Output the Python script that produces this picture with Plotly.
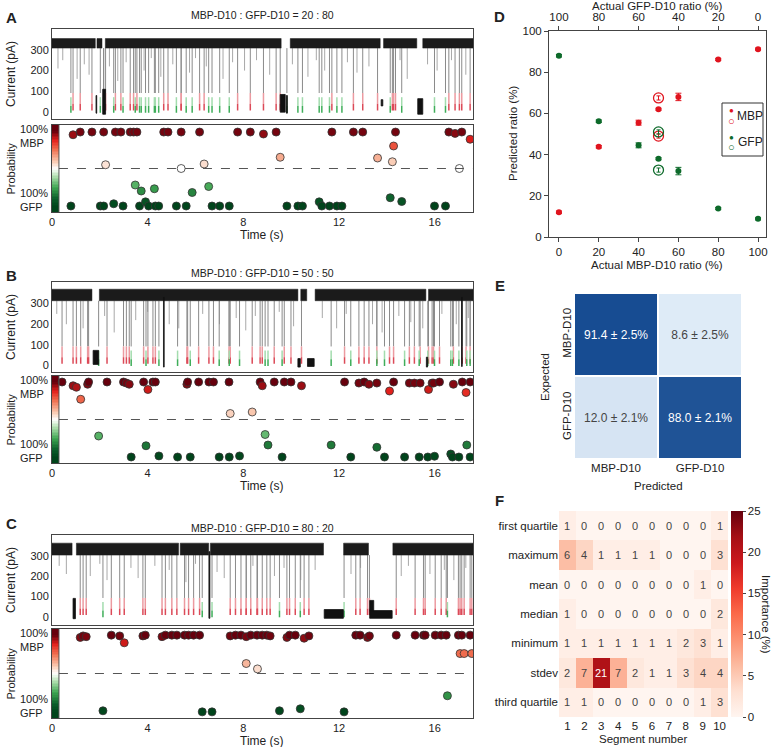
import plotly.graph_objects as go

W, H = 773, 747
FONT = "Arial, 'Liberation Sans', sans-serif"

def fx(x):
    return x / W

def fy(y):
    return 1 - y / H

# ---------------- data ----------------
T_MAX = 17.6
STRIP_W = 0.29
MBP_LEVEL = 8
GFP_LEVEL = -3
GRAY_END = 92
SPLIT_LEVEL = 40

# Panel A (20:80)
A_title = "MBP-D10 : GFP-D10 = 20 : 80"
A_t = [0.88, 1.18, 1.67, 2.16, 2.65, 2.88, 3.27, 3.41, 3.55, 4.67, 4.85, 5.40, 6.17, 7.76, 8.29, 8.84, 9.37,
       11.70, 12.60, 12.99, 14.36, 16.59, 16.85, 17.13, 17.48,
       2.24, 5.40, 6.36, 9.54, 13.61, 14.28, 14.23, 17.03,
       3.48, 3.73, 4.28, 5.86, 6.55, 14.14, 14.62,
       0.79, 2.02, 2.16, 2.58, 2.97, 3.66, 3.91, 4.04, 4.32, 4.46, 5.20, 5.61, 6.69, 7.01, 7.41, 9.82,
       10.28, 10.47, 11.17, 11.28, 11.60, 11.91, 12.12, 15.99, 16.45]
A_p = [0.95, 0.986, 0.986, 0.986, 0.986, 0.986, 0.986, 0.986, 0.986, 0.986, 0.986, 0.986, 0.986, 0.986, 0.986, 0.96, 0.986,
       0.986, 0.986, 0.986, 0.986, 0.986, 0.968, 0.986, 0.89,
       0.55, 0.50, 0.56, 0.65, 0.64, 0.80, 0.59, 0.50,
       0.28, 0.20, 0.23, 0.18, 0.26, 0.11, 0.06,
       0.0, 0.0, 0.0, 0.03, 0.0, 0.0, 0.055, 0.0, 0.0, 0.0, 0.0, 0.0, 0.0, 0.0, 0.0, 0.0,
       0.0, 0.0, 0.055, 0.0, 0.0, 0.0, 0.0, 0.0, 0.0]
A_spike_t = [0.25, 0.45, 1.05, 1.35, 1.55, 2.40, 2.75, 3.10, 3.85, 4.15, 4.55, 5.05, 5.75, 6.00, 6.45, 7.15, 7.55,
             8.05, 8.55, 9.10, 10.05, 10.70, 11.05, 11.40, 12.35, 12.75, 13.25, 14.55, 14.85, 15.70, 16.10, 16.70, 17.30]
A_spike_d = [210, 250, 160, 230, 180, 220, 150, 240, 200, 260, 170, 230, 190, 260, 220, 160, 240,
             200, 250, 180, 230, 170, 250, 200, 240, 190, 220, 250, 160, 230, 200, 250, 180]
A_band_s = [0.0, 1.88, 2.23, 9.96, 13.86, 15.50]
A_band_e = [1.81, 2.09, 9.58, 13.72, 15.25, 17.6]
A_band_lv = (308, 354)
A_blk_s = [1.84, 2.12, 9.54, 9.80, 13.76, 15.29]
A_blk_e = [1.87, 2.24, 9.75, 9.84, 13.83, 15.50]
A_blk_lo = [-5, -10, 0, -5, 30, -10]
A_blk_hi = [80, 110, 85, 80, 60, 65]
A_yrange = [-33, 400]

# Panel B (50:50)
B_title = "MBP-D10 : GFP-D10 = 50 : 50"
B_t = [0.42, 0.88, 1.02, 1.49, 1.53, 2.30, 2.99, 3.11, 3.23, 3.83, 4.01, 4.22, 4.32, 5.64, 5.67, 6.13, 6.56,
       6.75, 7.40, 8.70, 8.79, 9.29, 9.71, 9.99, 10.43, 12.23, 12.83, 13.05, 13.25, 13.58, 14.11, 14.28,
       14.94, 15.15, 15.39, 15.74, 15.89, 15.95, 16.20, 16.78, 17.15, 17.31, 17.48, 1.20,
       7.45, 8.37,
       1.95, 8.91, 3.93, 9.03, 11.67, 13.58, 17.34,
       3.31, 4.47, 5.25, 5.78, 6.99, 7.41, 7.84, 9.62, 12.49, 13.90, 14.74, 15.35, 15.71, 15.99, 16.67,
       16.74, 17.01, 17.48]
B_p = [1.0, 0.95, 0.93, 0.97, 1.0, 1.0, 1.0, 0.986, 0.97, 1.0, 0.90, 1.0, 1.0, 0.97, 1.0, 1.0, 1.0,
       1.0, 1.0, 1.0, 0.95, 1.0, 1.0, 1.0, 0.95, 1.0, 0.986, 1.0, 0.97, 0.986, 0.88, 1.0,
       0.986, 0.986, 0.986, 0.90, 0.986, 0.986, 1.0, 0.97, 1.0, 0.86, 1.0, 0.77,
       0.58, 0.60,
       0.28, 0.30, 0.15, 0.16, 0.16, 0.13, 0.16,
       0.0, 0.014, 0.0, 0.0, 0.0, 0.0, 0.014, 0.0, 0.0, 0.0, 0.0, 0.0, 0.0, 0.01, 0.04,
       0.0, 0.0, 0.0]
B_spike_t = [0.20, 0.60, 1.30, 2.20, 2.60, 3.50, 4.00, 4.90, 5.30, 6.30, 7.00, 7.70, 8.10, 8.50, 9.50, 10.10,
             11.30, 11.90, 12.30, 13.40, 13.80, 14.50, 15.00, 15.50, 16.30, 16.90, 17.40]
B_spike_d = [250, 200, 180, 240, 160, 220, 260, 200, 180, 250, 200, 230, 170, 240, 260, 190,
             230, 180, 250, 200, 160, 240, 210, 180, 250, 200, 230]
B_band_s = [0.0, 1.98, 10.40, 11.00, 15.74]
B_band_e = [1.67, 10.28, 10.65, 15.63, 17.6]
B_band_lv = (314, 370)
B_blk_s = [1.72, 4.66, 10.28, 10.68, 15.65, 17.12]
B_blk_e = [1.95, 4.69, 10.38, 10.96, 15.70, 17.15]
B_blk_lo = [5, -8, -8, -5, -8, -5]
B_blk_hi = [73, 330, 33, 33, 40, 330]
B_yrange = [-32, 405]

# Panel C (80:20)
C_title = "MBP-D10 : GFP-D10 = 80 : 20"
C_t = [1.18, 1.30, 1.43, 2.48, 2.83, 3.02, 3.80, 3.90, 4.60, 4.74, 5.01, 5.22, 5.54, 5.71, 5.92, 6.17,
       7.45, 7.67, 7.90, 8.12, 8.31, 8.57, 8.79, 8.98, 9.12, 9.82, 9.93, 10.17, 10.54, 10.74, 12.70,
       12.88, 13.19, 13.27, 14.39, 15.18, 15.53, 15.60, 16.02, 16.27, 16.48, 16.99, 17.13, 17.48,
       17.06, 17.23, 17.55,
       8.12, 8.59,
       16.53,
       2.13, 6.28, 6.69, 9.51, 10.38, 12.21]
C_p = [0.97, 0.99, 0.98, 1.0, 0.99, 0.90, 0.99, 1.0, 0.98, 1.0, 1.0, 1.0, 1.0, 1.0, 1.0, 1.0,
       0.99, 1.0, 1.0, 0.98, 1.0, 1.0, 1.0, 1.0, 0.99, 0.97, 1.0, 1.0, 0.96, 0.99, 1.0,
       1.0, 0.97, 0.99, 1.0, 1.0, 1.0, 1.0, 1.0, 1.0, 1.0, 1.0, 1.0, 1.0,
       0.76, 0.76, 0.76,
       0.63, 0.56,
       0.21,
       0.014, 0.0, 0.0, 0.014, 0.04, 0.0]
C_spike_t = [0.30, 0.60, 1.60, 2.00, 2.30, 3.30, 3.60, 4.30, 4.90, 5.60, 6.00, 6.90, 7.20, 8.40, 9.30, 9.70,
             10.40, 11.00, 12.50, 12.90, 14.60, 14.90, 15.80, 16.40, 16.80, 17.30]
C_spike_d = [250, 210, 200, 260, 180, 240, 190, 250, 230, 170, 260, 220, 190, 250, 200, 240,
             180, 230, 210, 240, 200, 250, 210, 230, 180, 240]
C_band_s = [0.0, 1.02, 5.36, 6.62, 12.19, 14.25]
C_band_e = [0.84, 5.29, 6.55, 11.35, 13.23, 17.6]
C_band_lv = (303, 362)
C_blk_s = [0.88, 6.56, 11.38, 13.28, 13.28]
C_blk_e = [0.98, 6.60, 12.18, 14.22, 13.45]
C_blk_lo = [-10, -8, -8, -8, 30]
C_blk_hi = [90, 320, 35, 30, 80]
C_yrange = [-41, 402]

# Panel D
D_x = [0, 20, 40, 50, 60, 80, 100]
D_mbp = [12.0, 43.8, 55.5, 62.0, 68.0, 86.2, 91.2]
D_gfp = [88.0, 56.2, 44.5, 38.0, 32.0, 13.8, 8.8]
D_err = [0.6, 0.6, 1.2, 0.5, 1.8, 0.5, 0.5]
D_open_x = [50, 50]
D_open_mbp = [67.5, 49.0]
D_open_gfp = [32.5, 51.0]
D_open_err = [1.0, 1.0]
D_ticks = [0, 20, 40, 60, 80, 100]
D_top_ticks = ["100", "80", "60", "40", "20", "0"]

# Panel E
E_labels = ["MBP-D10", "GFP-D10"]
E_vals = [[91.4, 8.6], [12.0, 88.0]]
E_err = [[2.5, 2.5], [2.1, 2.1]]

# Panel F
F_rows = ["first quartile", "maximum", "mean", "median", "minimum", "stdev", "third quartile"]
F_cols = [1, 2, 3, 4, 5, 6, 7, 8, 9, 10]
F_vals = [
    [1, 0, 0, 0, 0, 0, 0, 0, 0, 1],
    [6, 4, 1, 1, 1, 1, 0, 0, 0, 3],
    [0, 0, 0, 0, 0, 0, 0, 0, 1, 0],
    [1, 0, 0, 0, 0, 0, 0, 0, 0, 2],
    [1, 1, 1, 1, 1, 1, 1, 2, 3, 1],
    [2, 7, 21, 7, 2, 1, 1, 3, 4, 4],
    [1, 1, 0, 0, 0, 0, 0, 0, 1, 3],
]

# ---------------- styles ----------------
PSCALE = [[0, "#00441b"], [0.1, "#0b5d2a"], [0.25, "#3fa652"], [0.4, "#b2e0b0"], [0.5, "#ffffff"],
          [0.6, "#f9c7ae"], [0.75, "#f07252"], [0.88, "#e3201c"], [1, "#67000d"]]
REDS = [[0, "#fff5f0"], [0.125, "#fee0d2"], [0.25, "#fcbba1"], [0.375, "#fc9272"], [0.5, "#fb6a4a"],
        [0.625, "#ef3b2c"], [0.75, "#cb181d"], [0.875, "#a50f15"], [1, "#67000d"]]
LINE = "#444444"

fig = go.Figure()
layout = dict(
    width=W, height=H, margin=dict(l=0, r=0, t=0, b=0, autoexpand=False),
    paper_bgcolor="white", plot_bgcolor="white", showlegend=False,
    font=dict(family=FONT, size=11, color="#222"),
)
annotations = []
shapes = []

def ann(text, x, y, size=11, angle=0, bold=False, xanchor="center", yanchor="middle", color="#222", align="center"):
    if bold:
        text = "<b>" + text + "</b>"
    annotations.append(dict(text=text, x=fx(x), y=fy(y), xref="paper", yref="paper", showarrow=False,
                            font=dict(size=size, family=FONT, color=color), textangle=angle,
                            xanchor=xanchor, yanchor=yanchor, align=align))

panels = [
    ("A", A_title, A_t, A_p, A_spike_t, A_spike_d, A_band_s, A_band_e, A_band_lv,
     A_blk_s, A_blk_e, A_blk_lo, A_blk_hi, A_yrange, (29, 119, 125, 212), 18, 15),
    ("B", B_title, B_t, B_p, B_spike_t, B_spike_d, B_band_s, B_band_e, B_band_lv,
     B_blk_s, B_blk_e, B_blk_lo, B_blk_hi, B_yrange, (282, 372, 376, 463), 276, 273),
    ("C", C_title, C_t, C_p, C_spike_t, C_spike_d, C_band_s, C_band_e, C_band_lv,
     C_blk_s, C_blk_e, C_blk_lo, C_blk_hi, C_yrange, (535, 625, 629, 718), 523, 528),
]

XL, XR = 52, 473

def seg_trace(xs, ys, color, width, xa, ya):
    return go.Scatter(x=xs, y=ys, mode="lines", line=dict(color=color, width=width),
                      xaxis=xa, yaxis=ya, hoverinfo="skip")

for i, (letter, title, t, p, sp_t, sp_d, bs, be, blv, ks, ke, klo, khi, yr, box, ly, ty) in enumerate(panels):
    nc, npb = 2 * i + 1, 2 * i + 2
    xc, yc = ("x" if nc == 1 else f"x{nc}"), ("y" if nc == 1 else f"y{nc}")
    xp, yp = f"x{npb}", f"y{npb}"
    ct, cb, pt, pb = box

    # baseline band
    bx, by = [], []
    for s, e in zip(bs, be):
        bx += [s, e, e, s, s, None]
        by += [blv[0], blv[0], blv[1], blv[1], blv[0], None]
    # shallow spikes
    sx, sy = [], []
    for tt, d in zip(sp_t, sp_d):
        sx += [tt, tt, None]
        sy += [blv[0], d, None]
    # classified events
    gx, gy = [], []
    r1x, r1y, r2x, r2y, g1x, g1y, g2x, g2y = [], [], [], [], [], [], [], []
    for tt, pp in zip(t, p):
        gx += [tt, tt, None]
        gy += [blv[0], GRAY_END, None]
        if pp >= 0.5:
            r1x += [tt, tt, None]
            r1y += [GRAY_END, SPLIT_LEVEL, None]
            r2x += [tt, tt, None]
            r2y += [SPLIT_LEVEL, MBP_LEVEL, None]
        else:
            g1x += [tt, tt, None]
            g1y += [GRAY_END - 20, SPLIT_LEVEL - 10, None]
            g2x += [tt, tt, None]
            g2y += [SPLIT_LEVEL - 10, GFP_LEVEL, None]
    fig.add_trace(seg_trace(sx, sy, "#a8a8a8", 1, xc, yc))
    fig.add_trace(seg_trace(gx, gy, "#8a8a8a", 1, xc, yc))
    fig.add_trace(seg_trace(r1x, r1y, "#ec9aa0", 1.5, xc, yc))
    fig.add_trace(seg_trace(r2x, r2y, "#dc4a58", 1.5, xc, yc))
    fig.add_trace(seg_trace(g1x, g1y, "#a3dcae", 1.5, xc, yc))
    fig.add_trace(seg_trace(g2x, g2y, "#3fae5a", 1.5, xc, yc))
    fig.add_trace(go.Scatter(x=bx, y=by, mode="lines", fill="toself", fillcolor="#1b1b1b",
                             line=dict(color="#1b1b1b", width=0.5), xaxis=xc, yaxis=yc, hoverinfo="skip"))
    kx, ky = [], []
    for s, e, lo, hi in zip(ks, ke, klo, khi):
        kx += [s, e, e, s, s, None]
        ky += [lo, lo, hi, hi, lo, None]
    fig.add_trace(go.Scatter(x=kx, y=ky, mode="lines", fill="toself", fillcolor="#111111",
                             line=dict(color="#111111", width=0.8), xaxis=xc, yaxis=yc, hoverinfo="skip"))

    # colour strip
    edges = [-0.08 + k * 0.02 for k in range(59)]
    mids = [[min(max((edges[k] + edges[k + 1]) / 2, 0), 1)] for k in range(58)]
    fig.add_trace(go.Heatmap(x=[0, STRIP_W], y=edges, z=mids, colorscale=PSCALE, zmin=0, zmax=1,
                             showscale=False, xaxis=xp, yaxis=yp, hoverinfo="skip"))
    # probability points
    fig.add_trace(go.Scatter(x=t, y=p, mode="markers", xaxis=xp, yaxis=yp,
                             marker=dict(color=p, colorscale=PSCALE, cmin=0, cmax=1, size=8,
                                         line=dict(color="#333333", width=0.8))))
    shapes.append(dict(type="line", xref=xp, yref=yp, x0=STRIP_W, x1=T_MAX, y0=0.5, y1=0.5,
                       line=dict(color="#555555", width=1, dash="dash")))
    shapes.append(dict(type="line", xref=xp, yref=yp, x0=STRIP_W, x1=STRIP_W, y0=-0.08, y1=1.08,
                       line=dict(color="#555555", width=1)))

    common_x = dict(range=[0, T_MAX], showline=True, mirror=True, linecolor=LINE, linewidth=1,
                    showgrid=False, zeroline=False, ticks="")
    layout["xaxis" if nc == 1 else f"xaxis{nc}"] = dict(common_x, domain=[fx(XL), fx(XR)], anchor=yc,
                                                          showticklabels=False)
    layout["yaxis" if nc == 1 else f"yaxis{nc}"] = dict(domain=[fy(cb), fy(ct)], anchor=xc, range=yr,
                                                          tickvals=[0, 100, 200, 300], showline=True, mirror=True,
                                                          linecolor=LINE, showgrid=False, zeroline=False,
                                                          ticks="", tickfont=dict(size=11))
    layout[f"xaxis{npb}"] = dict(common_x, domain=[fx(XL), fx(XR)], anchor=yp,
                                  tickvals=[0, 4, 8, 12, 16], tickfont=dict(size=11))
    layout[f"yaxis{npb}"] = dict(domain=[fy(pb), fy(pt)], anchor=xp, range=[-0.08, 1.08],
                                  showticklabels=False, showline=True, mirror=True, linecolor=LINE,
                                  showgrid=False, zeroline=False, ticks="")

    ann(letter, 11, ly, size=15, bold=True)
    ann(title, 262, ty, size=10.5)
    ann("Current (pA)", 11, (ct + cb) / 2, size=12, angle=-90)
    ann("Probability", 10, (pt + pb) / 2, size=11, angle=-90)
    ann("100%<br>MBP", 50, pt + 11, size=11, xanchor="right", align="left")
    ann("100%<br>GFP", 50, pb - 12, size=11, xanchor="right", align="left")
    ann("Time (s)", 262, pb + 23, size=12)

# ---------------- Panel D ----------------
MBP_C, GFP_C = "#e0141e", "#0d6a2a"
fig.add_trace(go.Scatter(x=D_x, y=D_mbp, mode="markers", xaxis="x7", yaxis="y7",
                         marker=dict(color=MBP_C, size=6),
                         error_y=dict(type="data", array=D_err, color=MBP_C, thickness=1, width=3)))
fig.add_trace(go.Scatter(x=D_x, y=D_gfp, mode="markers", xaxis="x7", yaxis="y7",
                         marker=dict(color=GFP_C, size=6),
                         error_y=dict(type="data", array=D_err, color=GFP_C, thickness=1, width=3)))
fig.add_trace(go.Scatter(x=D_open_x, y=D_open_mbp, mode="markers", xaxis="x7", yaxis="y7",
                         marker=dict(color=MBP_C, size=10, symbol="circle-open", line=dict(width=1.3)),
                         error_y=dict(type="data", array=D_open_err, color=MBP_C, thickness=1, width=2)))
fig.add_trace(go.Scatter(x=D_open_x, y=D_open_gfp, mode="markers", xaxis="x7", yaxis="y7",
                         marker=dict(color=GFP_C, size=10, symbol="circle-open", line=dict(width=1.3)),
                         error_y=dict(type="data", array=D_open_err, color=GFP_C, thickness=1, width=2)))
fig.add_trace(go.Scatter(x=[0], y=[0], mode="markers", xaxis="x8", yaxis="y7",
                         marker=dict(opacity=0), hoverinfo="skip"))
DX = [fx(549), fx(766)]
layout["xaxis7"] = dict(domain=DX, anchor="y7", range=[-5, 104], tickvals=D_ticks, ticks="outside",
                        ticklen=4, tickcolor=LINE, showline=True, mirror=True, linecolor=LINE,
                        showgrid=False, zeroline=False, tickfont=dict(size=11.5))
layout["xaxis8"] = dict(domain=DX, anchor="y7", overlaying="x7", side="top", range=[-5, 104],
                        tickvals=D_ticks, ticktext=D_top_ticks, ticks="outside", ticklen=4,
                        tickcolor=LINE, showline=False, showgrid=False, zeroline=False,
                        tickfont=dict(size=11.5))
layout["yaxis7"] = dict(domain=[fy(237), fy(31)], anchor="x7", range=[0, 100], tickvals=[0, 20, 40, 60, 80, 100],
                        ticks="outside", ticklen=4, tickcolor=LINE, showline=True, mirror=True,
                        linecolor=LINE, showgrid=False, zeroline=False, tickfont=dict(size=11.5))
ann("D", 500, 17, size=15, bold=True)
ann("Actual GFP-D10 ratio (%)", 657, 6, size=11.5)
ann("Actual MBP-D10 ratio (%)", 657, 265, size=11.5)
ann("Predicted ratio (%)", 513, 134, size=11.5, angle=-90)
# legend box
shapes.append(dict(type="rect", xref="paper", yref="paper", x0=fx(722), x1=fx(763), y0=fy(156), y1=fy(103),
                   line=dict(color="#333", width=1), fillcolor="white"))
ann("●", 731, 111, size=8, color=MBP_C)
ann("○", 731, 121, size=11, color=MBP_C)
ann("MBP", 750, 116, size=12)
ann("●", 731, 137, size=8, color=GFP_C)
ann("○", 731, 147, size=11, color=GFP_C)
ann("GFP", 750, 142, size=12)

# ---------------- Panel E ----------------
E_text = [[f"{v:.1f} ± {e:.1f}%" for v, e in zip(rv, re)] for rv, re in zip(E_vals, E_err)]
fig.add_trace(go.Heatmap(x=E_labels, y=E_labels, z=E_vals, text=E_text, texttemplate="%{text}",
                         textfont=dict(size=12, family=FONT),
                         colorscale=[[0, "#deebf7"], [1, "#174c92"]], zmin=8.6, zmax=91.4,
                         xgap=2, ygap=2, showscale=False, xaxis="x9", yaxis="y9"))
layout["xaxis9"] = dict(domain=[fx(574), fx(742)], anchor="y9", showgrid=False, zeroline=False,
                        ticks="", tickfont=dict(size=11.5), showline=False)
layout["yaxis9"] = dict(domain=[fy(459), fy(293)], anchor="x9", autorange="reversed", showgrid=False,
                        zeroline=False, ticks="", tickangle=-90, tickfont=dict(size=11.5), showline=False)
ann("E", 500, 285, size=15, bold=True)
ann("Expected", 545, 377, size=11.5, angle=-90)
ann("Predicted", 658, 486, size=11.5)

# ---------------- Panel F ----------------
fig.add_trace(go.Heatmap(x=F_cols, y=F_rows, z=F_vals, text=F_vals, texttemplate="%{text}",
                         textfont=dict(size=11, family=FONT), colorscale=REDS, zmin=0, zmax=25,
                         xaxis="x10", yaxis="y10",
                         colorbar=dict(x=fx(731), xanchor="left", xpad=0, ypad=0, y=fy(614), yanchor="middle",
                                       len=206 / H, lenmode="fraction", thickness=12,
                                       tickvals=[0, 5, 10, 15, 20, 25], ticks="outside", ticklen=3,
                                       outlinewidth=0, tickfont=dict(size=11.5))))
layout["xaxis10"] = dict(domain=[fx(559), fx(728)], anchor="y10", tickvals=F_cols, showgrid=False,
                         zeroline=False, ticks="", tickfont=dict(size=11.5), showline=False)
layout["yaxis10"] = dict(domain=[fy(717), fy(511)], anchor="x10", autorange="reversed", showgrid=False,
                         zeroline=False, ticks="", tickfont=dict(size=11.5), showline=False)
ann("F", 500, 500, size=15, bold=True)
ann("Segment number", 643, 739, size=11.5)
ann("Importance (%)", 766, 614, size=11.5, angle=90)

layout["annotations"] = annotations
layout["shapes"] = shapes
fig.update_layout(**layout)
fig.write_html("out.html", config={"displayModeBar": False},
               post_script="document.body.style.margin='0';document.body.style.padding='0';")
